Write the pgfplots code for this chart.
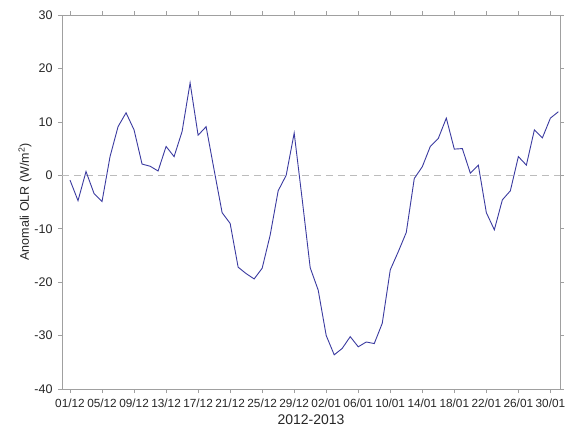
\documentclass[border=0pt]{standalone}
\usepackage{pgfplots}
\pgfplotsset{compat=1.18}
\usepackage{fontspec}
\setmainfont{Liberation Sans}
\usetikzlibrary{calc}
\definecolor{olrline}{HTML}{3A3AA0}
\definecolor{framegray}{HTML}{A0A0A0}

\begin{document}
\begin{tikzpicture}
\begin{axis}[
  scale only axis,
  width=498pt, height=374pt,
  xmin=-1, xmax=61.2,
  ymin=-40, ymax=30,
  xtick={0,4,...,60},
  xticklabels={01/12,05/12,09/12,13/12,17/12,21/12,25/12,29/12,02/01,06/01,10/01,14/01,18/01,22/01,26/01,30/01},
  ytick={-40,-30,...,30},
  tick align=outside,
  major tick length=4pt,
  axis line style={framegray},
  every tick/.style={framegray, line width=0.5pt},
  tick label style={font=\fontsize{11.8}{14}\selectfont, text=black!85},
  yticklabel style={font=\fontsize{12.5}{15}\selectfont, xshift=-2pt},
  /pgf/number format/assume math mode=true,
  xlabel={2012-2013},
  ylabel={Anomali OLR (W/m\textsuperscript{2})},
  xlabel style={font=\fontsize{14}{16}\selectfont, text=black!85, yshift=-1pt},
  ylabel style={font=\fontsize{12.5}{15}\selectfont, text=black!85, yshift=-4pt},
  xticklabel style={yshift=-2pt},
  clip=false,
]
\addplot[framegray!70, dash pattern=on 7pt off 5pt, line width=0.8pt, forget plot]
  coordinates {(-1,0) (61.2,0)};
\addplot[olrline, line width=0.9pt, mark=none] coordinates {
(0,-0.9) (1,-4.75) (2,0.7) (3,-3.4) (4,-4.9) (5,3.5) (6,9.1) (7,11.7)
(8,8.5) (9,2.1) (10,1.7) (11,0.8) (12,5.4) (13,3.5) (14,8.2) (15,17.3)
(16,7.5) (17,9.1) (18,1.0) (19,-7.0) (20,-9.0) (21,-17.2) (22,-18.4) (23,-19.4)
(24,-17.4) (25,-11.2) (26,-2.9) (27,0.0) (28,7.9) (29,-4.5) (30,-17.3) (31,-21.5)
(32,-30.0) (33,-33.6) (34,-32.4) (35,-30.2) (36,-32.1) (37,-31.2) (38,-31.5) (39,-27.7)
(40,-17.7) (41,-14.3) (42,-10.7) (43,-0.6) (44,1.6) (45,5.4) (46,6.9) (47,10.7)
(48,4.9) (49,5.0) (50,0.4) (51,1.9) (52,-7.0) (53,-10.2) (54,-4.6) (55,-2.9)
(56,3.5) (57,1.9) (58,8.5) (59,7.0) (60,10.7) (61,11.9)
};
\end{axis}
\pgfresetboundingbox
\path[use as bounding box] ($(current axis.south west)$) ++(-62pt,-43pt) rectangle ++(566pt,432pt);
\end{tikzpicture}
\end{document}
